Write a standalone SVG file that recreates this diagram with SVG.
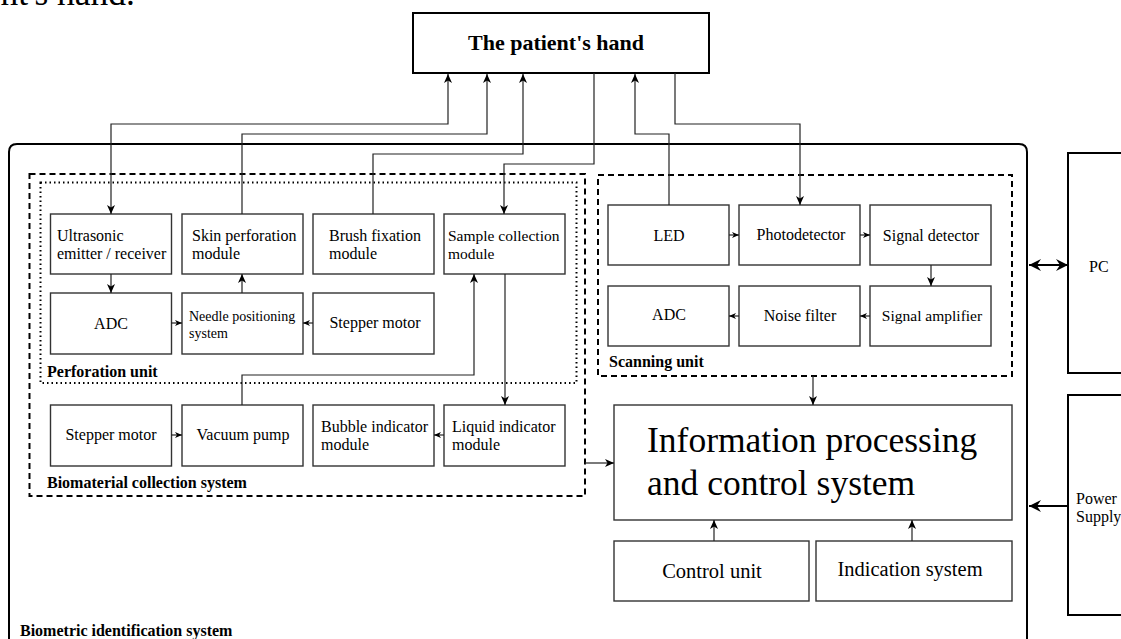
<svg xmlns="http://www.w3.org/2000/svg" width="1121" height="639" viewBox="0 0 1121 639">
<defs>
<marker id="ah" markerWidth="10" markerHeight="10" refX="9" refY="5" orient="auto-start-reverse" markerUnits="userSpaceOnUse">
<path d="M0,1 L9,5 L0,9 L2.5,5 Z" fill="#000"/>
</marker>
<marker id="ahs" markerWidth="8" markerHeight="8" refX="7" refY="4" orient="auto-start-reverse" markerUnits="userSpaceOnUse">
<path d="M0,1 L7,4 L0,7 L2,4 Z" fill="#000"/>
</marker>
<marker id="ahb" markerWidth="14" markerHeight="14" refX="12" refY="7" orient="auto-start-reverse" markerUnits="userSpaceOnUse">
<path d="M0,1 L12,7 L0,13 L4,7 Z" fill="#000"/>
</marker>
</defs>
<style>
text{font-family:"Liberation Serif","Times New Roman",serif;fill:#000}
.box{fill:#fff;stroke:#333;stroke-width:1.4}
.heavy{fill:#fff;stroke:#000;stroke-width:2}
.t16{font-size:16px}
.t155{font-size:15.5px}
.c{text-anchor:middle}
.bold{font-weight:bold}
.lbl{font-size:16px;font-weight:bold}
.ln{fill:none;stroke:#222;stroke-width:1.2}
.lnb{fill:none;stroke:#000;stroke-width:2}
</style>
<rect width="1121" height="639" fill="#fff"/>
<text x="135" y="5" text-anchor="end" font-size="35.5">patient's hand.</text>

<g id="system">
<path d="M9,650 L9,152 Q9,144 17,144 L1019,144 Q1027,144 1027,152 L1027,650" fill="none" stroke="#000" stroke-width="2"/>
<text x="20" y="636" class="lbl">Biometric identification system</text>
</g>

<g id="biomaterial-collection-system">
<rect x="29.5" y="174" width="555.5" height="322" fill="none" stroke="#000" stroke-width="2" stroke-dasharray="6,4"/>
<text x="47" y="488" class="lbl">Biomaterial collection system</text>
</g>
<g id="perforation-unit">
<rect x="40.5" y="182.5" width="536" height="200.5" fill="none" stroke="#000" stroke-width="2" stroke-dasharray="1.5,3"/>
<text x="47" y="377" class="lbl">Perforation unit</text>
</g>
<g id="scanning-unit">
<rect x="598" y="175" width="414" height="201" fill="none" stroke="#000" stroke-width="2" stroke-dasharray="6,4"/>
<text x="609" y="367" class="lbl">Scanning unit</text>
</g>

<g id="patients-hand">
<rect x="413" y="13" width="296" height="60" class="heavy"/>
<text x="556" y="50" class="c bold" font-size="22">The patient's hand</text>
</g>

<g id="ultrasonic"><rect x="50.5" y="214" width="121" height="60" class="box"/><text x="57" y="241" class="t16">Ultrasonic</text><text x="57" y="259" class="t16">emitter / receiver</text></g>
<g id="skin-perforation"><rect x="182" y="214" width="121" height="60" class="box"/><text x="192" y="241" class="t16">Skin perforation</text><text x="192" y="259" class="t16">module</text></g>
<g id="brush-fixation"><rect x="313" y="214" width="121" height="60" class="box"/><text x="329" y="241" class="t16">Brush fixation</text><text x="329" y="259" class="t16">module</text></g>
<g id="sample-collection"><rect x="444" y="214" width="121" height="60" class="box"/><text x="448" y="241" class="t155">Sample collection</text><text x="448" y="259" class="t155">module</text></g>
<g id="adc-perf"><rect x="50.5" y="293" width="121" height="61" class="box"/><text x="111" y="329" class="t16 c">ADC</text></g>
<g id="needle-positioning"><rect x="182" y="293" width="121" height="61" class="box"/><text x="189" y="321" font-size="14">Needle positioning</text><text x="189" y="338" font-size="14">system</text></g>
<g id="stepper-motor-perf"><rect x="313" y="293" width="121" height="61" class="box"/><text x="375" y="328" class="t16 c">Stepper motor</text></g>

<g id="stepper-motor-bio"><rect x="50.5" y="405" width="121" height="61" class="box"/><text x="111" y="440" class="t16 c">Stepper motor</text></g>
<g id="vacuum-pump"><rect x="182" y="405" width="121" height="61" class="box"/><text x="243" y="440" class="t16 c">Vacuum pump</text></g>
<g id="bubble-indicator"><rect x="313" y="405" width="121" height="61" class="box"/><text x="321" y="432" class="t16">Bubble indicator</text><text x="321" y="450" class="t16">module</text></g>
<g id="liquid-indicator"><rect x="444" y="405" width="121" height="61" class="box"/><text x="452" y="432" class="t16">Liquid indicator</text><text x="452" y="450" class="t16">module</text></g>

<g id="led"><rect x="608" y="205" width="121" height="60" class="box"/><text x="669" y="241" class="t16 c">LED</text></g>
<g id="photodetector"><rect x="739" y="205" width="121" height="60" class="box"/><text x="801" y="240" class="t16 c">Photodetector</text></g>
<g id="signal-detector"><rect x="870" y="205" width="121" height="60" class="box"/><text x="931" y="241" class="t16 c">Signal detector</text></g>
<g id="adc-scan"><rect x="608" y="286" width="121" height="60" class="box"/><text x="669" y="320" class="t16 c">ADC</text></g>
<g id="noise-filter"><rect x="739" y="286" width="121" height="60" class="box"/><text x="800" y="321" class="t16 c">Noise filter</text></g>
<g id="signal-amplifier"><rect x="870" y="286" width="121" height="60" class="box"/><text x="932" y="321" class="t155 c">Signal amplifier</text></g>

<g id="information-processing"><rect x="614" y="405" width="398" height="115" class="box"/><text x="647" y="452" font-size="35.5">Information processing</text><text x="647" y="495" font-size="35.5">and control system</text></g>
<g id="control-unit"><rect x="614" y="541" width="195" height="60" class="box"/><text x="712" y="578" font-size="20.5" class="c">Control unit</text></g>
<g id="indication-system"><rect x="816" y="541" width="196" height="60" class="box"/><text x="910" y="576" font-size="20.5" class="c">Indication system</text></g>

<g id="pc"><rect x="1068" y="153" width="70" height="220" class="heavy"/><text x="1089" y="272" class="t16">PC</text></g>
<g id="power-supply"><rect x="1068" y="395" width="70" height="220" class="heavy"/><text x="1076" y="504" class="t16">Power</text><text x="1076" y="522" class="t16">Supply</text></g>

<g id="connectors">
<path class="ln" d="M111,214 L111,124 L448,124 L448,74" marker-start="url(#ah)" marker-end="url(#ah)"/>
<path class="ln" d="M242,214 L242,134 L487,134 L487,74" marker-end="url(#ah)"/>
<path class="ln" d="M373,214 L373,154 L523,154 L523,74" marker-end="url(#ah)"/>
<path class="ln" d="M594,73 L594,164 L504,164 L504,214" marker-end="url(#ah)"/>
<path class="ln" d="M669,205 L669,134 L635,134 L635,74" marker-end="url(#ah)"/>
<path class="ln" d="M675,73 L675,124 L800,124 L800,205" marker-end="url(#ah)"/>

<path class="ln" d="M111,274 L111,293" marker-end="url(#ah)"/>
<path class="ln" d="M171,323 L182,323" marker-end="url(#ahs)"/>
<path class="ln" d="M313,323 L303,323" marker-end="url(#ahs)"/>
<path class="ln" d="M242,293 L242,274" marker-end="url(#ah)"/>
<path class="ln" d="M242,405 L242,375 L474,375 L474,274" marker-end="url(#ah)"/>
<path class="ln" d="M505,274 L505,405" marker-end="url(#ah)"/>
<path class="ln" d="M171,435 L182,435" marker-end="url(#ahs)"/>
<path class="ln" d="M444,435 L434,435" marker-end="url(#ahs)"/>

<path class="ln" d="M729,235 L739,235" marker-end="url(#ahs)"/>
<path class="ln" d="M860,235 L870,235" marker-end="url(#ahs)"/>
<path class="ln" d="M931,265 L931,286" marker-end="url(#ah)"/>
<path class="ln" d="M870,316 L860,316" marker-end="url(#ahs)"/>
<path class="ln" d="M739,316 L729,316" marker-end="url(#ahs)"/>

<path class="ln" d="M585,463 L614,463" marker-end="url(#ah)"/>
<path class="ln" d="M813,376 L813,405" marker-end="url(#ah)"/>
<path class="ln" d="M714,541 L714,520" marker-end="url(#ah)"/>
<path class="ln" d="M912,541 L912,520" marker-end="url(#ah)"/>

<path class="lnb" d="M1029,265 L1068,265" marker-start="url(#ahb)" marker-end="url(#ahb)"/>
<path class="lnb" d="M1068,506 L1029,506" marker-end="url(#ahb)"/>
</g>
</svg>
